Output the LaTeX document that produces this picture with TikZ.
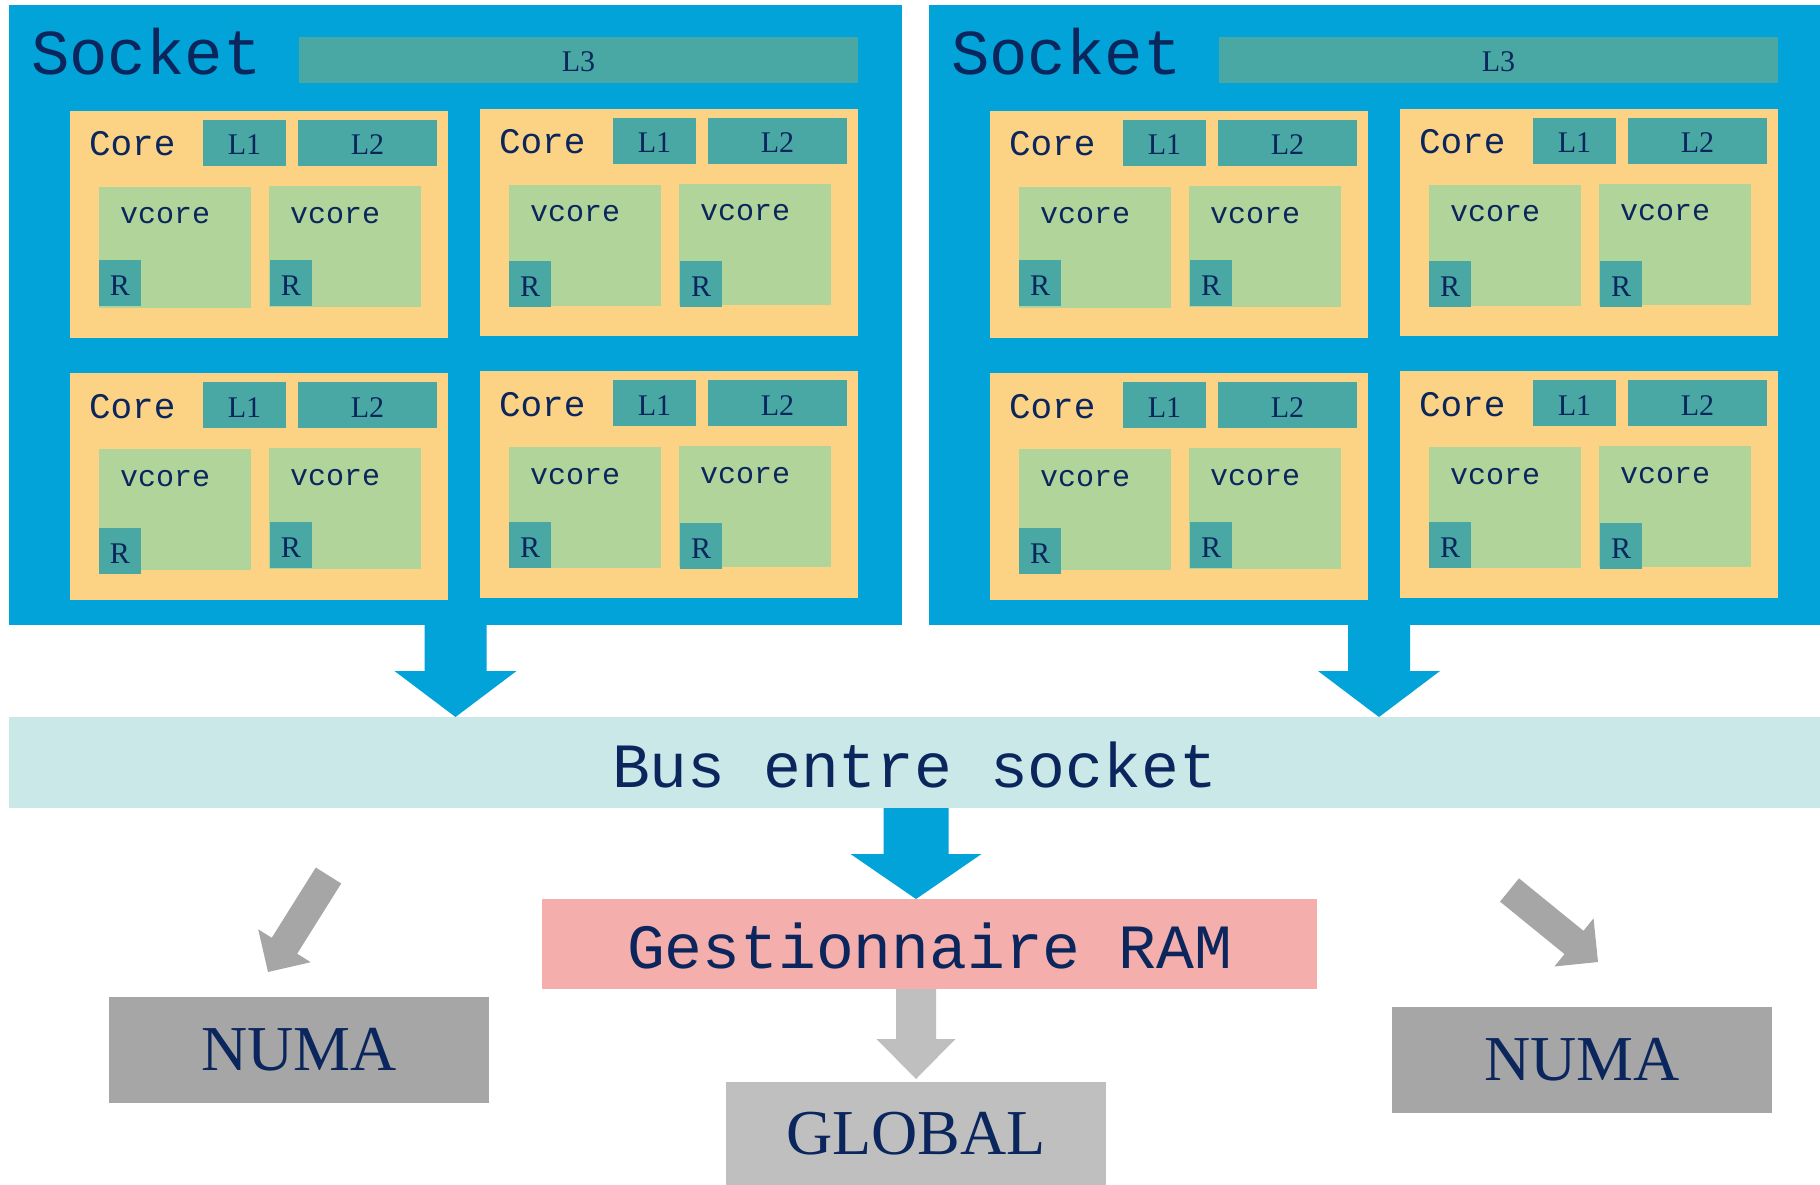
\documentclass[tikz,border=0pt]{standalone}
\usepackage{fontspec}
\newfontfamily\diagmono{Liberation Mono}
\newfontfamily\diagserif{Liberation Serif}
\usetikzlibrary{calc}

\definecolor{sockblue}{RGB}{2,163,216}
\definecolor{cachecol}{RGB}{74,168,164}
\definecolor{corecol}{RGB}{252,211,132}
\definecolor{vcorecol}{RGB}{176,212,154}
\definecolor{buscol}{RGB}{202,232,232}
\definecolor{ramcol}{RGB}{244,174,171}
\definecolor{numacol}{RGB}{166,166,166}
\definecolor{globcol}{RGB}{191,191,191}
\definecolor{inkcol}{RGB}{10,38,92}

% filled block arrow: style, half shaft width, half head width, head length, from, to
\newcommand\blockarrow[6]{%
  \coordinate (ba-h) at ($(#6)!#4!(#5)$);
  \fill[#1] ($(#5)!#2!90:(#6)$) -- ($(ba-h)!#2!-90:(#5)$) -- ($(ba-h)!#3!-90:(#5)$)
    -- (#6) -- ($(ba-h)!#3!90:(#5)$) -- ($(ba-h)!#2!90:(#5)$)
    -- ($(#5)!#2!-90:(#6)$) -- cycle;
}

\tikzset{
  box/.style={rectangle, inner sep=0pt, outer sep=0pt, anchor=north west, text=inkcol},
  sockbox/.style={box, fill=sockblue, minimum width=#1, minimum height=620pt},
  cachebox/.style={box, fill=cachecol, text height=24pt, text depth=0pt,
    font=\diagserif\fontsize{30}{30}\selectfont},
  corebox/.style={box, fill=corecol, minimum width=378pt, minimum height=227pt},
  vcorebox/.style={box, fill=vcorecol, minimum width=152pt, minimum height=121pt},
  regbox/.style={cachebox, minimum width=42pt, minimum height=46pt},
  monolabel/.style={inner sep=0pt, outer sep=0pt, anchor=base west, text=inkcol,
    font=\diagmono\fontsize{#1}{#1}\selectfont},
  bigmono/.style={text height=49pt, text depth=0pt, font=\diagmono\fontsize{63}{63}\selectfont},
  bigserif/.style={font=\diagserif\fontsize{64}{64}\selectfont},
  memflow/.style={sockblue},
  numaflow/.style={numacol},
  globflow/.style={globcol},
}

\begin{document}
\begin{tikzpicture}[x=1pt, y=-1pt]
\useasboundingbox[fill=white] (0,0) rectangle (1820,1185);

% the two sockets with their shared L3
\node[sockbox=893pt] (sockL) at (9,5) {};
\node[sockbox=891pt] (sockR) at (929,5) {};
\node[monolabel=64] (sockLlbl) at (31,75) {Socket};
\node[monolabel=64] (sockRlbl) at (951,75) {Socket};
\node[cachebox, minimum width=559pt, minimum height=46pt] (l3L) at (299,37) {L3};
\node[cachebox, minimum width=559pt, minimum height=46pt] (l3R) at (1219,37) {L3};

% four cores per socket: left x, top y, R offsets of the two vcores
\foreach \cx/\cy/\ra/\rb [count=\i] in
  {70/111/149/149, 480/109/152/152, 70/373/155/149, 480/371/151/152,
   990/111/149/149, 1400/109/152/152, 990/373/155/149, 1400/371/151/152}{
  \node[corebox] (core\i) at (\cx,\cy) {};
  \node[monolabel=36] (corelbl\i) at (\cx+19,\cy+45) {Core};
  \node[cachebox, minimum width=83pt, minimum height=46pt] (lone\i) at (\cx+133,\cy+9) {L1};
  \node[cachebox, minimum width=139pt, minimum height=46pt] (ltwo\i) at (\cx+228,\cy+9) {L2};
  \node[vcorebox] (va\i) at (\cx+29,\cy+76) {};
  \node[vcorebox] (vb\i) at (\cx+199,\cy+75) {};
  \node[monolabel=30] (valbl\i) at (\cx+50,\cy+113) {vcore};
  \node[monolabel=30] (vblbl\i) at (\cx+220,\cy+112) {vcore};
  \node[regbox] (ra\i) at (\cx+29,\cy+\ra) {R};
  \node[regbox] (rb\i) at (\cx+200,\cy+\rb) {R};
}

% interconnect and memory
\node[box, fill=buscol, minimum width=1811pt, minimum height=91pt, bigmono] (bus) at (9,717) {Bus entre socket};
\node[box, fill=ramcol, minimum width=775pt, minimum height=90pt, bigmono] (ram) at (542,899) {Gestionnaire RAM};
\node[box, fill=numacol, minimum width=380pt, minimum height=106pt, bigserif] (numaL) at (109,997) {NUMA};
\node[box, fill=numacol, minimum width=380pt, minimum height=106pt, bigserif] (numaR) at (1392,1007) {NUMA};
\node[box, fill=globcol, minimum width=380pt, minimum height=103pt, bigserif] (global) at (726,1082) {GLOBAL};

% flows
\blockarrow{memflow}{31pt}{61pt}{46pt}{sockL.south}{sockL.south |- bus.north}
\coordinate (sockRout) at ([xshift=4.5pt]sockR.south);
\blockarrow{memflow}{31pt}{61pt}{46pt}{sockRout}{sockRout |- bus.north}
\blockarrow{memflow}{32.5pt}{65.5pt}{45pt}{bus.south -| global.north}{ram.north -| global.north}
\coordinate (globtip) at ([yshift=3pt]global.north);
\blockarrow{globflow}{20pt}{39.5pt}{40pt}{ram.south -| global.north}{globtip}
\coordinate (numaLfrom) at (328.5,875.5);
\coordinate (numaLto) at (268,972);
\blockarrow{numaflow}{15pt}{31pt}{31pt}{numaLfrom}{numaLto}
\coordinate (numaRfrom) at (1509.5,890);
\coordinate (numaRto) at (1598,962);
\blockarrow{numaflow}{15pt}{31pt}{31pt}{numaRfrom}{numaRto}
\end{tikzpicture}
\end{document}
